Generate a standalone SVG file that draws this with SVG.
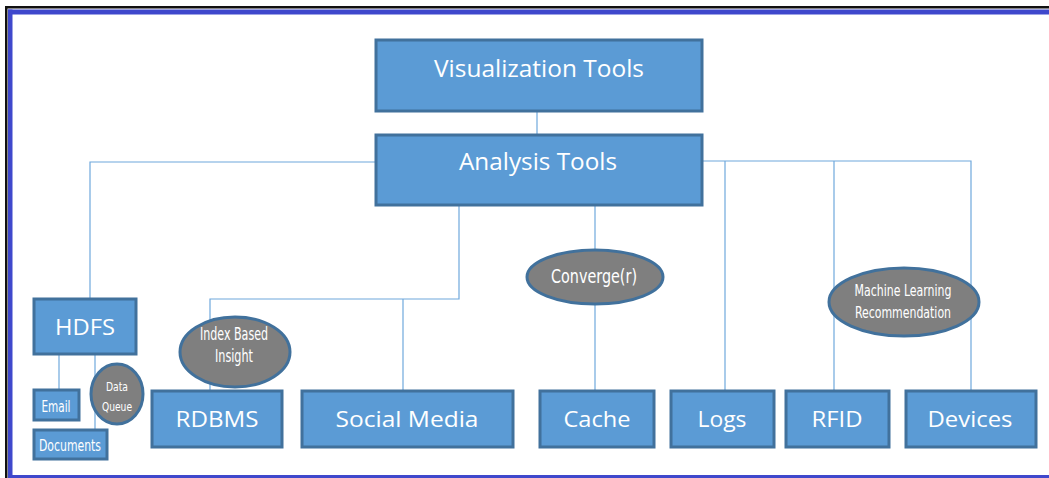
<svg xmlns="http://www.w3.org/2000/svg" width="1049" height="478" viewBox="0 0 1049 478">
<style>
.box{fill:#5B9BD5;stroke:#41719C;stroke-width:3}
.ell{fill:#7F7F7F;stroke:#41719C;stroke-width:3}
.t{font-family:"Open Sans","Liberation Sans",sans-serif;fill:#FFFFFF;text-anchor:middle}
.c{font-family:"DejaVu Sans Condensed","Liberation Sans Narrow",sans-serif;fill:#FFFFFF;text-anchor:middle}
.ln{fill:none;stroke:#6FA8DC;stroke-width:1.2}
</style>
<rect x="0" y="0" width="1049" height="478" fill="#FFFFFF"/>
<g id="frame">
<rect x="5" y="6" width="1044" height="2.5" fill="#111111"/>
<rect x="5" y="6" width="2.5" height="472" fill="#111111"/>
<rect x="8" y="9.5" width="1041" height="5" fill="#3F48CC"/>
<rect x="8" y="9.5" width="4.5" height="468.5" fill="#3F48CC"/>
<rect x="8" y="475" width="1041" height="3" fill="#3F48CC"/>
</g>
<g id="connectors">
<path class="ln" d="M537 111V135"/>
<path class="ln" d="M376 162H90V299"/>
<path class="ln" d="M59 354V390"/>
<path class="ln" d="M95 354V430"/>
<path class="ln" d="M459 205V299H210V391"/>
<path class="ln" d="M403 299V391"/>
<path class="ln" d="M595 205V391"/>
<path class="ln" d="M702 161H971V391"/>
<path class="ln" d="M725 161V391"/>
<path class="ln" d="M834 161V391"/>
</g>
<g id="visualization-tools">
<rect class="box" x="376" y="40" width="326" height="71"/>
<text class="t" x="539" y="77" font-size="23" textLength="210" lengthAdjust="spacingAndGlyphs">Visualization Tools</text>
</g>
<g id="analysis-tools">
<rect class="box" x="376" y="135" width="326" height="70"/>
<text class="t" x="538" y="170" font-size="23" textLength="158" lengthAdjust="spacingAndGlyphs">Analysis Tools</text>
</g>
<g id="hdfs">
<rect class="box" x="34" y="299" width="102" height="55"/>
<text class="t" x="85" y="335" font-size="22" textLength="60" lengthAdjust="spacingAndGlyphs">HDFS</text>
</g>
<g id="email">
<rect class="box" x="34" y="390" width="45" height="30"/>
<text class="c" x="56" y="412" font-size="16" textLength="29" lengthAdjust="spacingAndGlyphs">Email</text>
</g>
<g id="documents">
<rect class="box" x="34" y="430" width="73" height="29"/>
<text class="c" x="70" y="451" font-size="16" textLength="62" lengthAdjust="spacingAndGlyphs">Documents</text>
</g>
<g id="data-queue">
<ellipse class="ell" cx="117" cy="394" rx="26" ry="30"/>
<text class="c" x="117" y="391" font-size="13" textLength="22" lengthAdjust="spacingAndGlyphs">Data</text>
<text class="c" x="117" y="411" font-size="13" textLength="30" lengthAdjust="spacingAndGlyphs">Queue</text>
</g>
<g id="index-based-insight">
<ellipse class="ell" cx="235" cy="352" rx="55" ry="35"/>
<text class="c" x="234" y="340" font-size="17" textLength="68" lengthAdjust="spacingAndGlyphs">Index Based</text>
<text class="c" x="234" y="362" font-size="17" textLength="38" lengthAdjust="spacingAndGlyphs">Insight</text>
</g>
<g id="rdbms">
<rect class="box" x="152" y="391" width="130" height="56"/>
<text class="t" x="217" y="427" font-size="22" textLength="83" lengthAdjust="spacingAndGlyphs">RDBMS</text>
</g>
<g id="social-media">
<rect class="box" x="302" y="391" width="211" height="56"/>
<text class="t" x="407" y="427" font-size="22" textLength="143" lengthAdjust="spacingAndGlyphs">Social Media</text>
</g>
<g id="converge">
<ellipse class="ell" cx="595" cy="277" rx="68" ry="27"/>
<text class="c" x="594" y="283" font-size="20" textLength="86" lengthAdjust="spacingAndGlyphs">Converge(r)</text>
</g>
<g id="cache">
<rect class="box" x="540" y="391" width="114" height="56"/>
<text class="t" x="597" y="427" font-size="22" textLength="67" lengthAdjust="spacingAndGlyphs">Cache</text>
</g>
<g id="logs">
<rect class="box" x="671" y="391" width="103" height="56"/>
<text class="t" x="722" y="427" font-size="22" textLength="49" lengthAdjust="spacingAndGlyphs">Logs</text>
</g>
<g id="rfid">
<rect class="box" x="786" y="391" width="103" height="56"/>
<text class="t" x="837" y="427" font-size="22" textLength="51" lengthAdjust="spacingAndGlyphs">RFID</text>
</g>
<g id="devices">
<rect class="box" x="906" y="391" width="130" height="56"/>
<text class="t" x="970" y="427" font-size="22" textLength="85" lengthAdjust="spacingAndGlyphs">Devices</text>
</g>
<g id="machine-learning">
<ellipse class="ell" cx="904" cy="302" rx="75" ry="34"/>
<text class="c" x="903" y="296" font-size="16" textLength="97" lengthAdjust="spacingAndGlyphs">Machine Learning</text>
<text class="c" x="903" y="318" font-size="16" textLength="96" lengthAdjust="spacingAndGlyphs">Recommendation</text>
</g>
</svg>
